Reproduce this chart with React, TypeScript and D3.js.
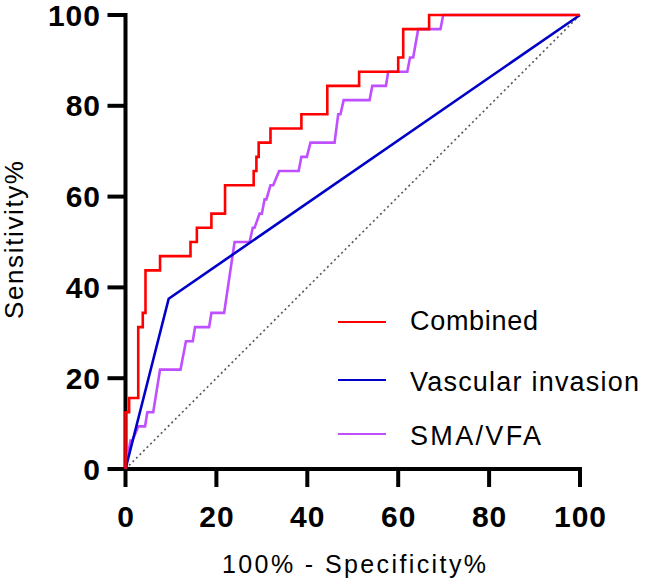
import React from "react";
import * as d3 from "d3";

type Pt = [number, number];

const combined: Pt[] = [
  [0, 0], [0, 12.5], [0.8, 12.5], [0.8, 15.63], [2.8, 15.63], [2.8, 31.25],
  [3.8, 31.25], [3.8, 34.38], [4.4, 34.38], [4.4, 43.75], [7.6, 43.75], [7.6, 46.88],
  [14.3, 46.88], [14.3, 50], [15.7, 50], [15.7, 53.13], [18.9, 53.13], [18.9, 56.25],
  [21.9, 56.25], [21.9, 62.5], [28.2, 62.5], [28.2, 65.63], [28.8, 65.63], [28.8, 68.75],
  [29.3, 68.75], [29.3, 71.88], [31.9, 71.88], [31.9, 75], [38.7, 75], [38.7, 78.13],
  [44.4, 78.13], [44.4, 84.38], [51.4, 84.38], [51.4, 87.5], [60, 87.5], [60, 90.63],
  [61.1, 90.63], [61.1, 96.88], [66.8, 96.88], [66.8, 100], [100, 100],
];

const vascular: Pt[] = [
  [0, 0], [9.5, 37.5], [100, 100],
];

const smaVfa: Pt[] = [
  [0, 0], [1.1, 6.25], [1.5, 6.25], [2.8, 9.38], [4.3, 9.38], [4.8, 12.5], [6.1, 12.5],
  [7.6, 21.88], [12.1, 21.88], [13.3, 28.13], [14.8, 28.13], [15.3, 31.25], [18.4, 31.25],
  [18.9, 34.38], [21.7, 34.38], [24, 50], [27.3, 50], [28, 53.13], [28.4, 53.13],
  [29.5, 56.25], [30, 56.25], [30.6, 59.38], [31, 59.38], [31.9, 62.5], [32.5, 62.5],
  [33.8, 65.63], [38.1, 65.63], [38.7, 68.75], [39.9, 68.75], [40.7, 71.88], [46, 71.88],
  [46.8, 78.13], [47.3, 78.13], [48, 81.25], [53.7, 81.25], [54.3, 84.38], [57.3, 84.38],
  [57.8, 87.5], [62, 87.5], [62.6, 90.63], [63.3, 90.63], [64.4, 96.88], [69.3, 96.88],
  [69.9, 100], [100, 100],
];

const chance: Pt[] = [[0, 0], [100, 100]];

const xTicks = [0, 20, 40, 60, 80, 100];
const yTicks = [0, 20, 40, 60, 80, 100];

const seriesNames = ["Combined", "Vascular invasion", "SMA/VFA"];
const seriesColors = ["#ff0000", "#0000c8", "#bf4fff"];
const legendLengths = [128, 229, 131];

const xTitle = "100% - Specificity%";
const yTitle = "Sensitivity%";

export default function App() {
  const W = 645;
  const H = 585;
  const x = d3.scaleLinear().domain([0, 100]).range([125.5, 580]);
  const y = d3.scaleLinear().domain([0, 100]).range([469, 15]);
  const line = d3
    .line<Pt>()
    .x((d) => x(d[0]))
    .y((d) => y(d[1]));

  const font = "'Liberation Sans', Arial, Helvetica, sans-serif";
  const series = [combined, vascular, smaVfa];
  const legendY = [322, 380, 434];
  const legendBase = [330, 391, 445];

  return (
    <svg
      width={W}
      height={H}
      viewBox={`0 0 ${W} ${H}`}
      style={{ position: "absolute", left: 0, top: 0, background: "#fff" }}
    >
      <rect x={0} y={0} width={W} height={H} fill="#fff" />

      {/* axes */}
      <g stroke="#000" strokeWidth={4} fill="none">
        <line x1={x(0)} x2={x(0)} y1={y(100) - 2} y2={y(0) + 2} />
        <line x1={x(0) - 2} x2={x(100) + 2} y1={y(0)} y2={y(0)} />
        {yTicks.map((t) => (
          <line key={"yt" + t} x1={x(0) - 18} x2={x(0)} y1={y(t)} y2={y(t)} />
        ))}
        {xTicks.map((t) => (
          <line key={"xt" + t} x1={x(t)} x2={x(t)} y1={y(0)} y2={y(0) + 18} />
        ))}
      </g>

      {/* tick labels */}
      <g fontFamily={font} fontWeight="bold" fontSize={30} fill="#000">
        {yTicks.map((t) => (
          <text
            key={"yl" + t}
            x={101}
            y={y(t) + 10.5}
            textAnchor="end"
            letterSpacing={1}
          >
            {t}
          </text>
        ))}
        {xTicks.map((t) => (
          <text
            key={"xl" + t}
            x={x(t) + 0.5}
            y={527}
            textAnchor="middle"
            letterSpacing={1}
          >
            {t}
          </text>
        ))}
      </g>

      {/* chance line */}
      <path
        d={line(chance) || ""}
        stroke="#555"
        strokeWidth={1.6}
        strokeDasharray="2 3"
        fill="none"
      />

      {/* curves: purple, blue, red */}
      {[2, 1, 0].map((i) => (
        <path
          key={"s" + i}
          d={line(series[i]) || ""}
          stroke={seriesColors[i]}
          strokeWidth={2.6}
          fill="none"
          strokeLinejoin="miter"
        />
      ))}

      {/* legend */}
      {seriesNames.map((name, i) => (
        <g key={"lg" + i}>
          <line
            x1={338}
            x2={386}
            y1={legendY[i]}
            y2={legendY[i]}
            stroke={seriesColors[i]}
            strokeWidth={1.8}
          />
          <text
            x={410}
            y={legendBase[i]}
            fontFamily={font}
            fontSize={27}
            fill="#000"
            textLength={legendLengths[i]}
            lengthAdjust="spacing"
          >
            {name}
          </text>
        </g>
      ))}

      {/* axis titles */}
      <text
        x={222}
        y={573}
        fontFamily={font}
        fontSize={25}
        fill="#000"
        textLength={264}
        lengthAdjust="spacing"
      >
        {xTitle}
      </text>
      <text
        transform="translate(23,319) rotate(-90)"
        fontFamily={font}
        fontSize={26}
        fill="#000"
        textLength={158}
        lengthAdjust="spacing"
      >
        {yTitle}
      </text>
    </svg>
  );
}
